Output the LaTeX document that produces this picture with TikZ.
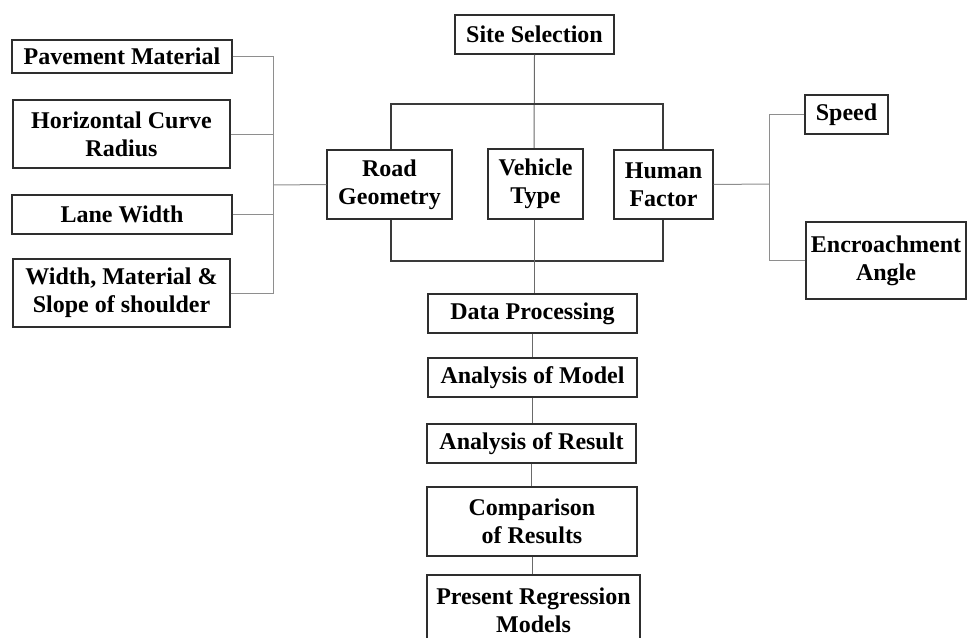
\documentclass[tikz,border=0pt]{standalone}
\usepackage{fontspec}
\setmainfont{Liberation Serif}
\usepackage{xcolor}
\usepackage{tikz}
\usetikzlibrary{positioning,calc}
\definecolor{edge}{HTML}{2E2E2E}
\definecolor{wire}{HTML}{8E8E8E}
\definecolor{trunk}{HTML}{6A6A6A}
\definecolor{brack}{HTML}{3A3A3A}

\begin{document}
\begin{tikzpicture}[x=1pt,y=-1pt,
  every node/.style={font=\bfseries\fontsize{24}{28}\selectfont,text=black},
  box/.style={draw=edge,line width=1.4pt,fill=white,align=center,inner sep=0pt},
  wirel/.style={wire,line width=1pt},
  trunkl/.style={trunk,line width=1pt},
  brackl/.style={brack,line width=1.4pt}]
  \useasboundingbox (0,0) rectangle (968,637);
  \clip (0,0) rectangle (968,637);
  % top row
  \node[box,minimum width=159,minimum height=39] (site) at (534.5,34.5) {Site Selection};
  \coordinate (tbar) at (534,104);
  \coordinate (bbar) at (534,261);
  % links first so that boxes sit on top
  \draw[trunkl] (site.south) -- (534,150);
  \draw[brackl] (391,150) |- (tbar) -| (663,150);
  \draw[brackl] (391,219) |- (bbar) -| (663,219);
  \draw[trunkl] (534,219) -- (534,294);
  \node[box,minimum width=125,minimum height=69] (road) at (389.5,184.5) {Road\\Geometry};
  \node[box,minimum width=95,minimum height=70] (veh) at (535.5,184) {Vehicle\\Type};
  \node[box,minimum width=99,minimum height=69] (hum) at (663.5,184.5) {Human\\Factor};
  % left branch
  \node[box,minimum width=220,minimum height=33] (pave) at (122,56.5) {Pavement Material};
  \node[box,minimum width=217,minimum height=68] (radius) at (121.5,134) {Horizontal Curve\\Radius};
  \node[box,minimum width=220,minimum height=39] (lane) at (122,214.5) {Lane Width};
  \node[box,minimum width=217,minimum height=68] (shoulder) at (121.5,293) {Width, Material \&\\Slope of shoulder};
  \coordinate (lbus) at (273,185);
  \draw[wirel] (road.west) -- (lbus);
  \foreach \n in {pave,radius,lane,shoulder}
    \draw[wirel] (\n.east) -| (lbus);
  % right branch
  \node[box,minimum width=83,minimum height=39] (speed) at (846.5,114.5) {Speed};
  \node[box,minimum width=160,minimum height=77] (angle) at (886,260.5) {Encroachment\\Angle};
  \coordinate (rbus) at (769,184);
  \draw[wirel] (hum.east) -- (rbus);
  \foreach \n in {speed,angle}
    \draw[wirel] (\n.west) -| (rbus);
  % lower chain
  \node[box,minimum width=209,minimum height=39] (proc) at (532.5,313.5) {Data Processing};
  \node[box,minimum width=209,minimum height=39] (model) at (532.5,377.5) {Analysis of Model};
  \node[box,minimum width=209,minimum height=39] (result) at (531.5,443.5) {Analysis of Result};
  \node[box,minimum width=210,minimum height=69] (compare) at (532,521.5) {Comparison\\of Results};
  \node[box,minimum width=213,minimum height=70,text depth=0pt] (regress) at (533.5,610) {Present Regression\\Models};
  \foreach \a/\b in {proc/model,model/result,result/compare,compare/regress}
    \draw[trunkl] (\a.south) -- (\a.south |- \b.north);
\end{tikzpicture}
\end{document}
